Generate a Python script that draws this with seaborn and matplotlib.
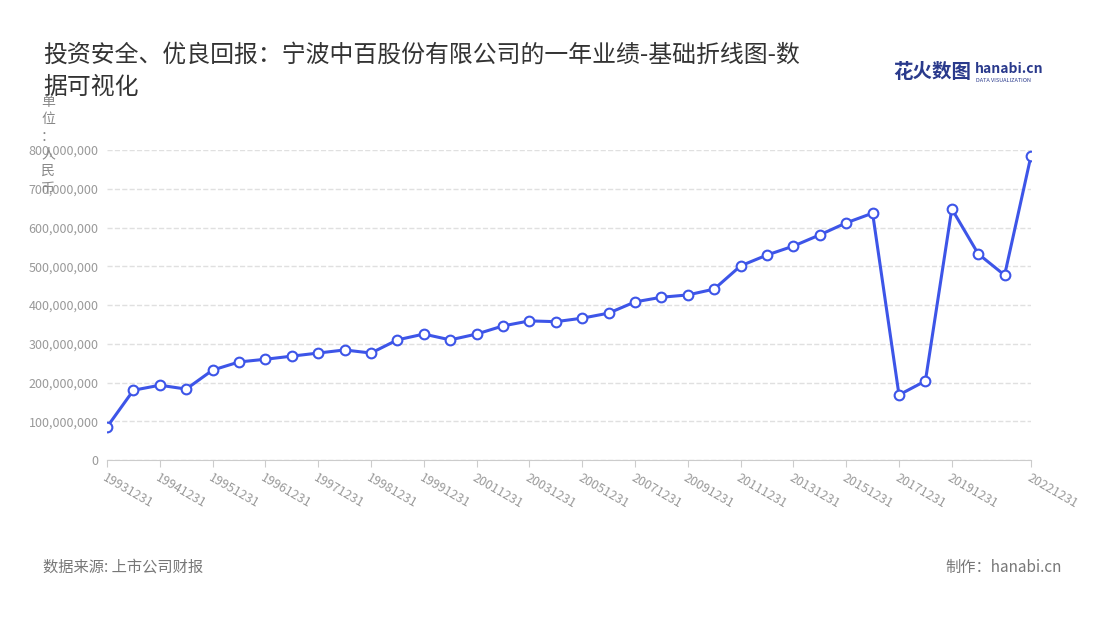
import matplotlib
matplotlib.use('Agg')
import matplotlib.pyplot as plt
import seaborn as sns
import pandas as pd
from matplotlib.ticker import FuncFormatter

dates = ['19931231', '19940630', '19941231', '19950630', '19951231', '19960630', '19961231',
         '19970630', '19971231', '19980630', '19981231', '19990630', '19991231'] + \
        [f'{y}1231' for y in range(2000, 2023)]
values = [85, 180, 193, 183, 232, 253, 260, 268, 276, 284, 276, 310, 325,
          310, 325, 346, 359, 357, 366, 379, 408, 420, 426, 441, 501, 529, 552,
          581, 612, 637, 168, 204, 648, 532, 477, 785]
values = [v * 1e6 for v in values]

df = pd.DataFrame({'pos': range(len(dates)), 'date': dates, 'value': values})

sns.set_style('white')
plt.rcParams['font.family'] = ['Noto Sans CJK SC', 'DejaVu Sans']

fig = plt.figure(figsize=(11, 6.2), dpi=100)
ax = fig.add_axes([107 / 1100, 1 - 460 / 620, 924 / 1100, 310 / 620])
line_c = '#3d55e8'
sns.lineplot(data=df, x='pos', y='value', ax=ax, color=line_c, lw=2.2,
             marker='o', markersize=7, markerfacecolor='white',
             markeredgecolor=line_c, markeredgewidth=1.5)

ax.set_xlim(0, len(dates) - 1)
ax.set_ylim(0, 800e6)
ax.set_yticks(range(0, 800000001, 100000000))
ax.yaxis.set_major_formatter(FuncFormatter(lambda v, p: f'{int(v):,}'))
ticks = [i for i in range(0, len(dates), 2) if i != 34] + [len(dates) - 1]
ax.set_xticks(ticks)
ax.set_xticklabels([dates[i] for i in ticks], rotation=-30, ha='left',
                   rotation_mode='anchor', color='#999999', fontsize=9)
ax.tick_params(axis='y', labelsize=9, colors='#999999', length=0, pad=6)
ax.tick_params(axis='x', length=5, color='#cccccc', bottom=True)
ax.grid(axis='y', ls='--', color='#e0e0e0', lw=1)
for s in ['top', 'right', 'left']:
    ax.spines[s].set_visible(False)
ax.spines['bottom'].set_color('#cccccc')
ax.set_xlabel('')
ax.set_ylabel('')

fig.text(43 / 1100, 1 - 55 / 620, '投资安全、优良回报：宁波中百股份有限公司的一年业绩-基础折线图-数',
         fontsize=17.2, color='#333333', va='center')
fig.text(43 / 1100, 1 - 87 / 620, '据可视化', fontsize=17.2, color='#333333', va='center')
fig.text(48 / 1100, 1 - 95 / 620, '单\n位\n：\n人\n民\n币', fontsize=10, color='#888888',
         va='top', ha='center', linespacing=1.3)
fig.text(893 / 1100, 1 - 72 / 620, '花火数图', fontsize=14, color='#2a3a8c',
         fontweight='bold', va='center')
fig.text(975 / 1100, 1 - 69 / 620, 'hanabi.cn', fontsize=10, color='#2a3a8c',
         fontweight='bold', va='center')
fig.text(976 / 1100, 1 - 80 / 620, 'DATA VISUALIZATION', fontsize=4, color='#2a3a8c', va='center')
fig.text(43 / 1100, 1 - 567 / 620, '数据来源: 上市公司财报', fontsize=11, color='#777777', va='center')
fig.text(1062 / 1100, 1 - 567 / 620, '制作：hanabi.cn', fontsize=11, color='#777777',
         va='center', ha='right')

fig.savefig('out.png', dpi=100)
